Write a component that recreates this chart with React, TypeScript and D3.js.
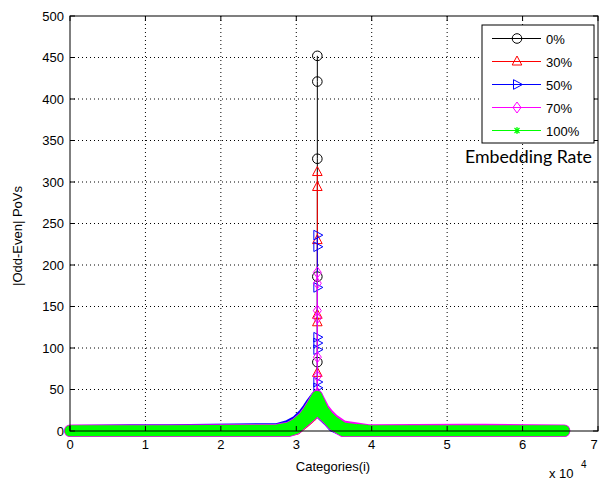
import React from "react";
import * as d3 from "d3";

// ---------- data ----------
const xTickVals = [0, 10000, 20000, 30000, 40000, 50000, 60000, 70000];
const xTickLabels = ["0", "1", "2", "3", "4", "5", "6", "7"];
const yTickVals = [0, 50, 100, 150, 200, 250, 300, 350, 400, 450, 500];

const seriesNames = ["0%", "30%", "50%", "70%", "100%"];
const seriesColors = ["#000000", "#ff0000", "#0000ff", "#ff00ff", "#00ff00"];

// dense marker cloud envelope (index i) — shared sample positions
const envI = [0, 8000, 13000, 27500, 29000, 30000, 31000, 31500, 32000, 32750, 33600, 34200, 34900, 36200, 38000, 39500, 52000, 55000, 65536];

const upper0 = [0.5, 0.5, 0.5, 1.5, 4, 8, 16, 22, 29, 40, 24, 17, 11, 4, 2, 1, 0.5, 0.5, 0.5];
const lower0 = [0, 0, 0, 0, 0, 3, 11, 15, 19, 26, 19, 14, 7, 0, 0, 0, 0, 0, 0];
const upper30 = [0.5, 0.5, 0.5, 1.5, 4, 9, 17, 23, 30, 41, 25, 18, 12, 4, 2, 1, 0.5, 0.5, 0.5];
const lower30 = [0, 0, 0, 0, 0, 2, 9.5, 13.5, 17.5, 25, 19, 14, 7, 0, 0, 0, 0, 0, 0];
const upper50 = [0.5, 1.5, 1.5, 3, 7, 12, 21, 27, 34, 43, 25, 18, 12, 4, 2, 1, 0.5, 0.5, 0.5];
const lower50 = [0, 0, 0, 0, 0, 3, 11, 15, 19, 25, 17.5, 12.5, 5.5, 0, 0, 0, 0, 0, 0];
const upper70 = [0.5, 0.5, 0.5, 1.5, 4, 9, 17, 23, 30, 42, 27, 20, 13.5, 5.5, 3, 1, 1.5, 1.5, 0.5];
const lower70 = [0, 0, 0, 0, 0, 3, 11, 15, 19, 26, 19, 14, 7, 0, 0, 0, 0, 0, 0];
const upper100 = [0.5, 0.5, 0.5, 1.5, 4, 9, 17, 23, 30, 42, 25, 18, 12, 4, 2, 1, 0.5, 0.5, 0.5];
const lower100 = [0, 0, 0, 0, 0, 3, 11, 15, 19, 26, 19, 14, 7, 0, 0, 0, 0, 0, 0];

// isolated high points around the centre bin
const peakI = 32790;
const peak0 = [40, 83, 186, 328, 421, 452];
const peak30 = [40, 70, 131, 140, 230, 294, 312];
const peak50 = [40, 52, 59, 98, 106, 113, 173, 222, 236];
const peak70 = [40, 46, 66, 89, 136, 145, 178, 191];
const peak100 = [38, 43];

const uppers = [upper0, upper30, upper50, upper70, upper100];
const lowers = [lower0, lower30, lower50, lower70, lower100];
const peaks = [peak0, peak30, peak50, peak70, peak100];
const markerKinds = ["circle", "triUp", "triRight", "diamond", "star"];
const bandWidths = [10, 11, 11, 12, 10.5];

// ---------- layout ----------
const W = 600, H = 482;
const L = 70, R = 598, T = 16, B = 431;
const FONT = "'Liberation Sans', Arial, sans-serif";

function Marker({ kind, cx, cy, color }: { kind: string; cx: number; cy: number; color: string }) {
  const common = { fill: "none", stroke: color, strokeWidth: 1 };
  if (kind === "circle") return <circle cx={cx} cy={cy} r={4.8} {...common} />;
  if (kind === "triUp")
    return <path d={`M${cx},${cy - 5.5}L${cx + 4.8},${cy + 3.5}L${cx - 4.8},${cy + 3.5}Z`} {...common} />;
  if (kind === "triRight")
    return <path d={`M${cx + 5.5},${cy}L${cx - 3.5},${cy - 4.8}L${cx - 3.5},${cy + 4.8}Z`} {...common} />;
  if (kind === "diamond")
    return <path d={`M${cx},${cy - 5.5}L${cx + 4},${cy}L${cx},${cy + 5.5}L${cx - 4},${cy}Z`} {...common} />;
  // asterisk
  return (
    <path
      d={`M${cx - 3.5},${cy}L${cx + 3.5},${cy}M${cx},${cy - 3.5}L${cx},${cy + 3.5}M${cx - 2.5},${cy - 2.5}L${cx + 2.5},${cy + 2.5}M${cx - 2.5},${cy + 2.5}L${cx + 2.5},${cy - 2.5}`}
      {...common}
      strokeWidth={1.2}
    />
  );
}

export default function App() {
  const x = d3.scaleLinear().domain([0, 70000]).range([L, R]);
  const y = d3.scaleLinear().domain([0, 500]).range([B, T]);

  const area = d3
    .area<{ i: number; lo: number; hi: number }>()
    .x((d) => x(d.i))
    .y0((d) => y(d.lo))
    .y1((d) => y(d.hi));
  const line = d3
    .line<number>()
    .x(() => x(peakI))
    .y((v) => y(v));

  const dotted = "1,3";

  return (
    <svg width={W} height={H} style={{ position: "absolute", left: 0, top: 0, background: "#fff" }}>
      <rect x={0} y={0} width={W} height={H} fill="#fff" />
      {/* grid */}
      {xTickVals.slice(1, -1).map((v) => (
        <line key={"gx" + v} x1={x(v)} x2={x(v)} y1={T} y2={B} stroke="#000" strokeDasharray={dotted} strokeWidth={1} />
      ))}
      {yTickVals.slice(1, -1).map((v) => (
        <line key={"gy" + v} x1={L} x2={R} y1={y(v)} y2={y(v)} stroke="#000" strokeDasharray={dotted} strokeWidth={1} />
      ))}

      {/* series */}
      {seriesNames.map((name, s) => {
        const color = seriesColors[s];
        const band = envI.map((i, k) => ({ i, lo: lowers[s][k], hi: uppers[s][k] }));
        return (
          <g key={name}>
            <path
              d={area(band) || ""}
              fill={color}
              stroke={color}
              strokeWidth={bandWidths[s]}
              strokeLinejoin="round"
              strokeLinecap="round"
            />
            <path d={line(peaks[s]) || ""} fill="none" stroke={color} strokeWidth={1} />
            {peaks[s].map((v, k) => (
              <Marker key={k} kind={markerKinds[s]} cx={x(peakI)} cy={y(v)} color={color} />
            ))}
          </g>
        );
      })}

      {/* axes box */}
      <rect x={L} y={T} width={R - L} height={B - T} fill="none" stroke="#000" strokeWidth={1} />
      {xTickVals.map((v) => (
        <g key={"tx" + v}>
          <line x1={x(v)} x2={x(v)} y1={B} y2={B - 5} stroke="#000" />
          <line x1={x(v)} x2={x(v)} y1={T} y2={T + 5} stroke="#000" />
        </g>
      ))}
      {yTickVals.map((v) => (
        <g key={"ty" + v}>
          <line x1={L} x2={L + 5} y1={y(v)} y2={y(v)} stroke="#000" />
          <line x1={R} x2={R - 5} y1={y(v)} y2={y(v)} stroke="#000" />
        </g>
      ))}

      {/* tick labels */}
      {xTickVals.map((v, k) => (
        <text key={"lx" + v} x={Math.min(x(v), 594)} y={B + 18} textAnchor="middle" fontFamily={FONT} fontSize={13} fill="#000">
          {xTickLabels[k]}
        </text>
      ))}
      {yTickVals.map((v) => (
        <text key={"ly" + v} x={L - 6} y={y(v) + 4.5} textAnchor="end" fontFamily={FONT} fontSize={13} fill="#000">
          {v}
        </text>
      ))}

      {/* axis labels */}
      <text x={333} y={471} textAnchor="middle" fontFamily={FONT} fontSize={13} fill="#000">
        Categories(i)
      </text>
      <text x={549} y={478} fontFamily={FONT} fontSize={13} fill="#000">
        x 10
      </text>
      <text x={581} y={468} fontFamily={FONT} fontSize={10} fill="#000">
        4
      </text>
      <text
        transform={`translate(22,236) rotate(-90)`}
        textAnchor="middle"
        fontFamily={FONT}
        fontSize={13}
        fill="#000"
      >
        |Odd-Even| PoVs
      </text>

      {/* legend */}
      <rect x={482} y={25} width={112} height={118} fill="#fff" stroke="#000" strokeWidth={1} />
      {seriesNames.map((name, s) => {
        const ly = 38.5 + s * 23;
        return (
          <g key={"leg" + name}>
            <line x1={492} x2={541} y1={ly} y2={ly} stroke={seriesColors[s]} strokeWidth={1} />
            <Marker kind={markerKinds[s]} cx={517} cy={ly} color={seriesColors[s]} />
            <text x={546} y={ly + 5} fontFamily={FONT} fontSize={13} fill="#000">
              {name}
            </text>
          </g>
        );
      })}
      <text
        x={465}
        y={163}
        fontFamily="Lato, 'Open Sans', sans-serif"
        fontSize={18}
        fill="#000"
        textLength={127}
        lengthAdjust="spacingAndGlyphs"
      >
        Embedding Rate
      </text>
    </svg>
  );
}
